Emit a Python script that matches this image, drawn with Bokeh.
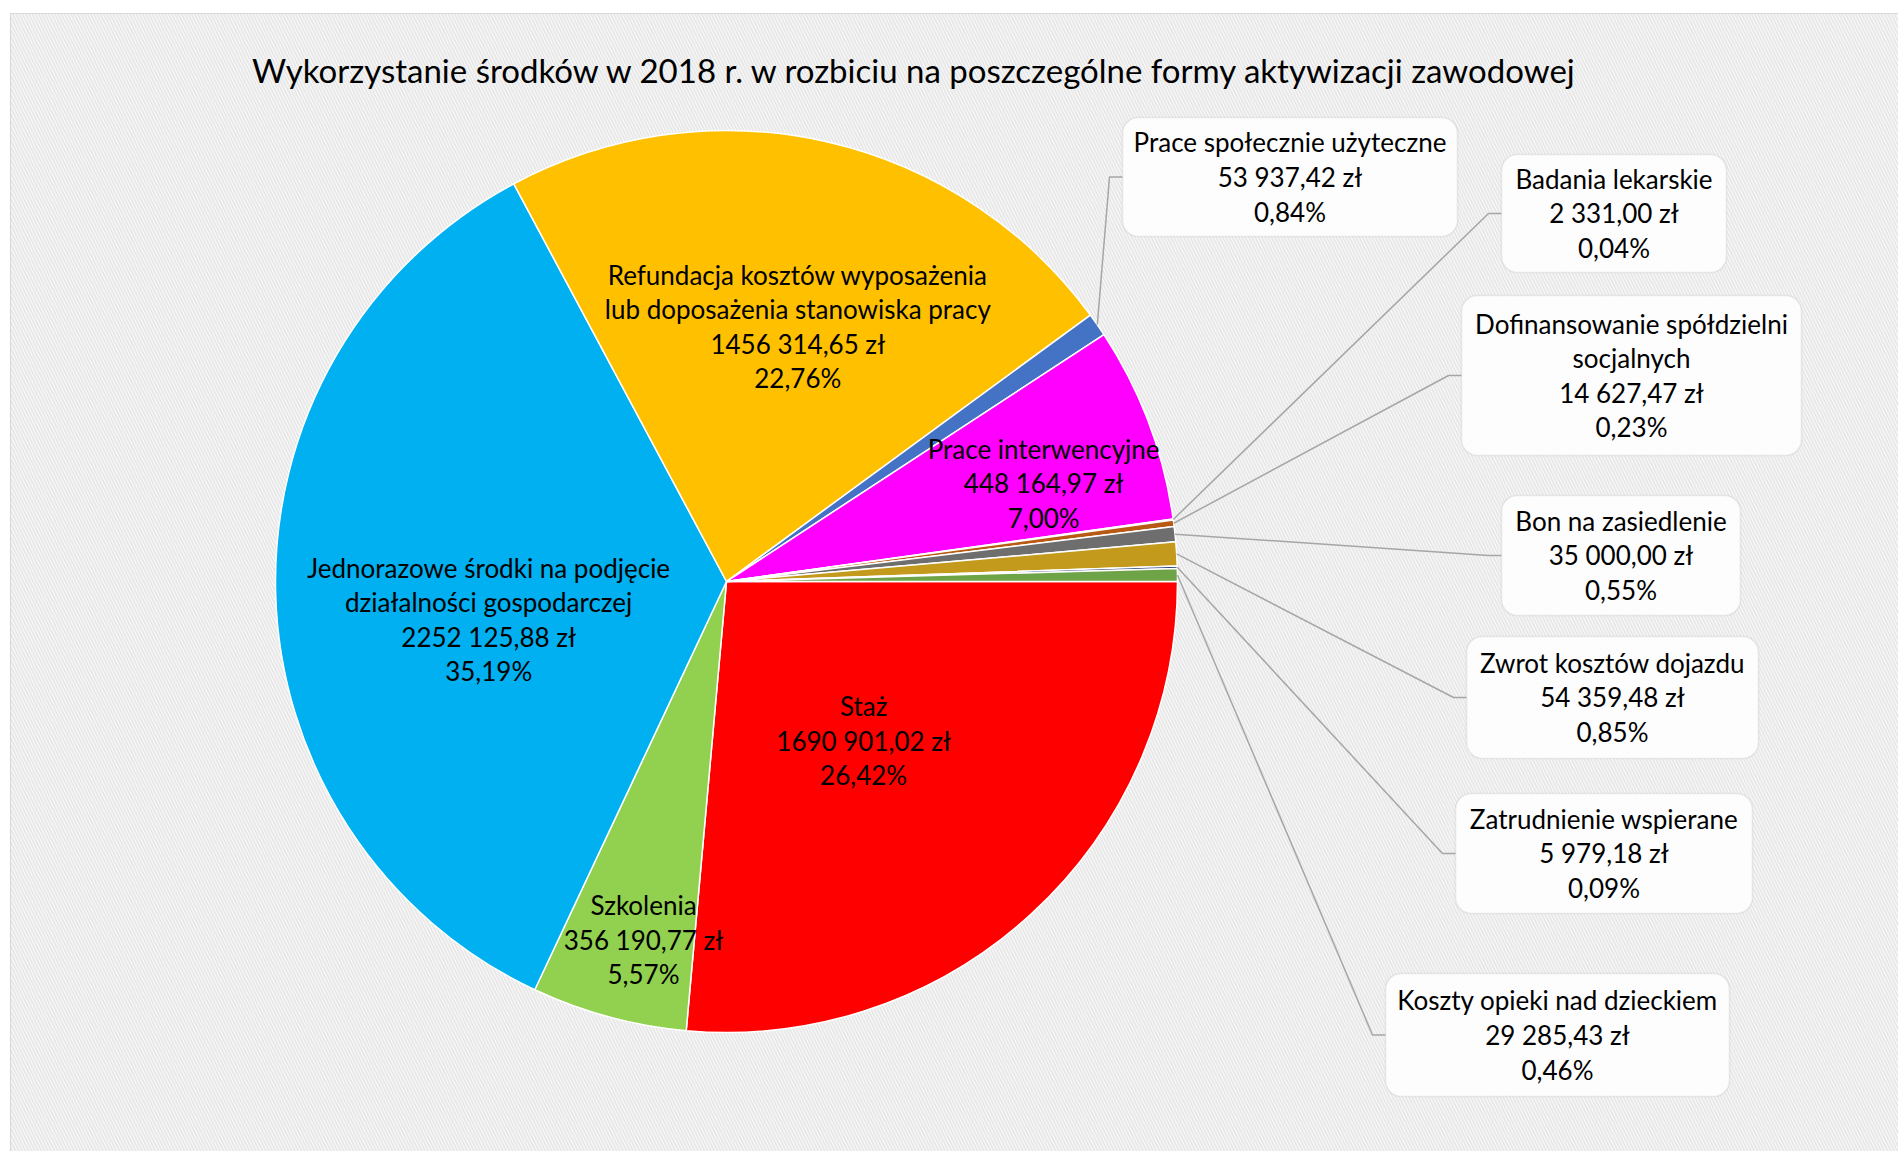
import math
from bokeh.plotting import figure
from bokeh.models import Range1d, BoxAnnotation, ColumnDataSource
from bokeh.core.properties import value
from bokeh.embed import file_html
from bokeh.resources import INLINE

# ---------------- data ----------------
title = "Wykorzystanie środków w 2018 r. w rozbiciu na poszczególne formy aktywizacji zawodowej"
categories = [
    "Staż",
    "Szkolenia",
    "Jednorazowe środki na podjęcie\ndziałalności gospodarczej",
    "Refundacja kosztów wyposażenia\nlub doposażenia stanowiska pracy",
    "Prace społecznie użyteczne",
    "Prace interwencyjne",
    "Badania lekarskie",
    "Dofinansowanie spółdzielni\nsocjalnych",
    "Bon na zasiedlenie",
    "Zwrot kosztów dojazdu",
    "Zatrudnienie wspierane",
    "Koszty opieki nad dzieckiem",
]
amounts = [1690901.02, 356190.77, 2252125.88, 1456314.65, 53937.42, 448164.97,
           2331.00, 14627.47, 35000.00, 54359.48, 5979.18, 29285.43]
colors = ["#FF0000", "#92D050", "#00B0F0", "#FFC000", "#4472C4", "#FF00FF",
          "#EDEDED", "#B85A14", "#6E6E6E", "#C49A1C", "#264478", "#6FA347"]

# ---------------- layout ----------------
W, H = 1898, 1151
def X(x): return x          # image px -> data x
def Y(y): return H - y      # image px -> data y

CX, CY, R = X(726), Y(581), 451
FONT = "Lato"
FS = "26px"
LH = 1.08

# inside labels: index -> (radius fraction, angle nudge in degrees)
inside = {0: (0.466, 1.7), 1: (0.815, -2.1), 2: (0.534, -7.6), 3: (0.587, 2.8), 5: (0.736, 3.4)}
# callout boxes: index -> (left, right, top, bottom) in image px
boxes = {
    4: (1122, 1457, 117, 236),
    6: (1501, 1726, 154, 272),
    7: (1461, 1801, 295, 455),
    8: (1501, 1740, 495, 615),
    9: (1466, 1758, 636, 758),
    10: (1455, 1752, 793, 913),
    11: (1385, 1729, 973, 1096),
}

def fmt_amount(v):
    ip = int(v)
    frac = round((v - ip) * 100)
    s = f"{ip // 1000} {ip % 1000:03d}" if ip >= 1000 else str(ip)
    return f"{s},{frac:02d} zł"

total = sum(amounts)
fracs = [a / total for a in amounts]
cum = [0.0]
for f in fracs:
    cum.append(cum[-1] + f)

# clockwise from 3 o'clock
start_angles = [-cum[i + 1] * 2 * math.pi for i in range(len(amounts))]
end_angles = [-cum[i] * 2 * math.pi for i in range(len(amounts))]
mid_cw_deg = [(cum[i] + cum[i + 1]) / 2 * 360 for i in range(len(amounts))]

labels = [f"{c}\n{fmt_amount(a)}\n{f*100:.2f}%".replace(".", ",") for c, a, f in zip(categories, amounts, fracs)]

p = figure(width=W, height=H, output_backend="svg", toolbar_location=None,
           x_range=Range1d(0, W), y_range=Range1d(0, H), min_border=0)
p.axis.visible = False
p.grid.visible = False
p.outline_line_color = None
p.background_fill_color = "white"
p.border_fill_color = "white"

# hatched chart area
bg = p.quad(left=[X(10)], right=[W + 5], top=[Y(13)], bottom=[-5],
            fill_color="white", hatch_pattern="\\", hatch_color="#E6E6E6",
            hatch_scale=6.5, hatch_weight=2.0, line_color="#D9D9D9", line_width=1.2)
bg.level = "image"

src = ColumnDataSource(dict(start=start_angles, end=end_angles, color=colors))
p.wedge(x=CX, y=CY, radius=R, start_angle="start", end_angle="end", direction="anticlock",
        fill_color="color", line_color="white", line_width=1.5, source=src)

# inside labels
lx, ly, lt = [], [], []
for i, (rf, nudge) in inside.items():
    a = math.radians(mid_cw_deg[i] + nudge)
    lx.append(CX + rf * R * math.cos(a))
    ly.append(CY - rf * R * math.sin(a))
    lt.append(labels[i])
p.text(x=lx, y=ly, text=lt, text_font=value(FONT), text_font_size=FS,
       text_align="center", text_baseline="middle", text_line_height=LH, text_color="black")

# callouts
bx, by, bt = [], [], []
for i, (l, r, t, b) in boxes.items():
    box = BoxAnnotation(left=X(l), right=X(r), top=Y(t), bottom=Y(b),
                        fill_color="white", fill_alpha=0.85, line_color="#BFBFBF",
                        line_width=1.6, border_radius=16, level="underlay")
    p.add_layout(box)
    ymid = (Y(t) + Y(b)) / 2
    a = math.radians(mid_cw_deg[i])
    ex, ey = CX + R * math.cos(a), CY - R * math.sin(a)
    p.line(x=[X(l), X(l) - 13, ex], y=[ymid, ymid, ey], line_color="#A6A6A6", line_width=1.5)
    bx.append((X(l) + X(r)) / 2)
    by.append(ymid)
    bt.append(labels[i])
p.text(x=bx, y=by, text=bt, text_font=value(FONT), text_font_size=FS,
       text_align="center", text_baseline="middle", text_line_height=LH, text_color="black")

# title
p.text(x=[X(915)], y=[Y(69)], text=[title], text_font=value(FONT), text_font_size="33px",
       text_align="center", text_baseline="middle", text_color="black")

open("out.html", "w").write(file_html(p, INLINE))
